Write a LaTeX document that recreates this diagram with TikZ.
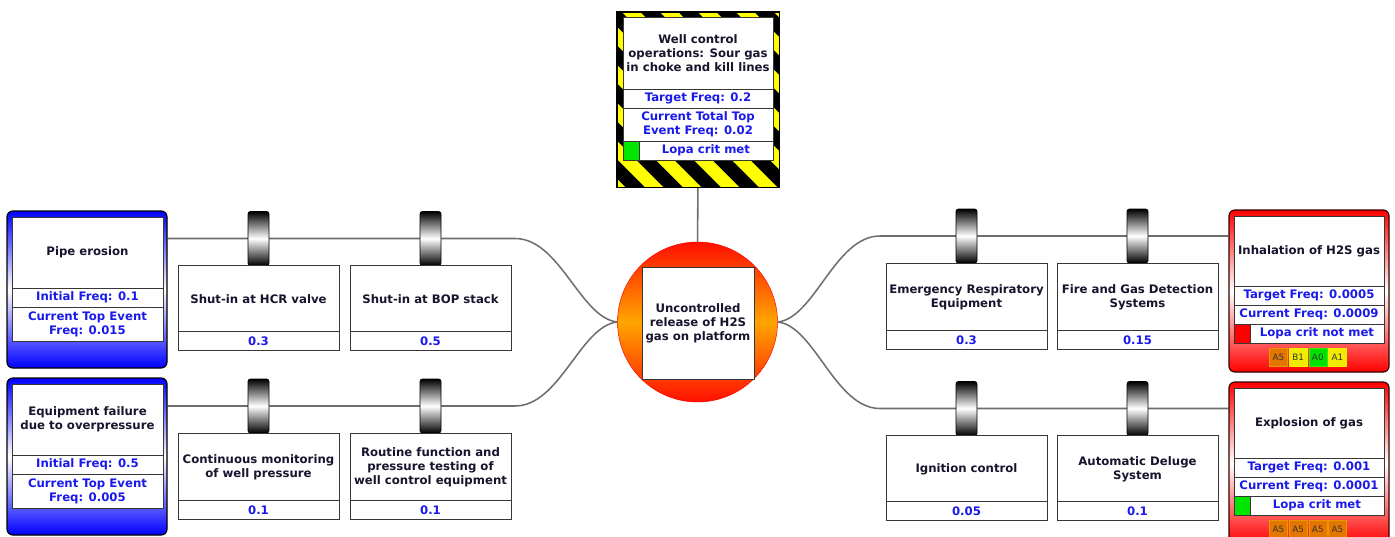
\documentclass[tikz,border=0pt]{standalone}
\usepackage{fontspec}
\setmainfont{DejaVu Sans}
\usepackage{tikz}
\usetikzlibrary{positioning}
\usetikzlibrary{backgrounds}

\definecolor{linkgray}{RGB}{110,110,110}
\definecolor{cellgray}{RGB}{55,55,55}
\definecolor{titletext}{RGB}{25,20,45}
\definecolor{valblue}{RGB}{25,25,235}
\definecolor{hazyellow}{RGB}{255,255,0}
\definecolor{badgeorange}{RGB}{228,118,0}
\definecolor{badgeyellow}{RGB}{240,235,0}
\definecolor{badgegreen}{RGB}{0,225,0}
\definecolor{lopagreen}{RGB}{0,230,0}
\definecolor{hubred}{RGB}{255,15,0}
\definecolor{huborange}{RGB}{255,165,0}

\newcommand{\pxl}{0.03cm}

\tikzset{
	cell/.style 2 args={draw=cellgray, fill=white, line width=0.7pt, inner sep=1pt, outer sep=0pt,
		minimum width=#1*\pxl, minimum height=#2*\pxl, align=center,
		font=\fontsize{10}{12}\selectfont\bfseries, text=titletext},
	valcell/.style 2 args={cell={#1}{#2}, text=valblue},
	knob/.style={draw=black, line width=0.6pt, rounded corners=2pt, top color=black, bottom color=black,
		middle color=white, minimum width=21*\pxl, minimum height=54*\pxl, inner sep=0pt},
	threatbox/.style={draw=black, line width=1pt, rounded corners=5pt, top color=blue, bottom color=blue,
		middle color=white, minimum width=160*\pxl, minimum height=157*\pxl, inner sep=0pt},
	consbox/.style={draw=black!80!red, line width=1pt, rounded corners=5pt, top color=red, bottom color=red,
		middle color=white, minimum width=160*\pxl, minimum height=162*\pxl, inner sep=0pt},
	hazbox/.style={draw=black, fill=hazyellow, minimum width=162*\pxl, minimum height=175*\pxl, inner sep=0pt},
	lopasq/.style={draw=cellgray, fill=#1, line width=0.7pt, minimum width=16*\pxl, minimum height=19*\pxl,
		inner sep=0pt, outer sep=0pt},
	badge/.style={fill=#1, draw=#1!75!yellow, minimum width=18*\pxl, minimum height=18*\pxl, inner sep=0pt,
		font=\fontsize{7.5}{8}\selectfont, text=black!80},
	link/.style={draw=linkgray, line width=1.3pt}
}

\begin{document}
\begin{tikzpicture}[x=\pxl, y=-\pxl]
	\clip (0,0) rectangle (1395,537);

	% Hazard %
	\node[hazbox] (haz) at (698,99.5) {};
	\begin{scope}
		\clip (haz.south west) rectangle (haz.north east);
		\foreach \s in {410,448,...,790} \draw[line width=13.5*\pxl] (\s,0) -- ++(200,200);
	\end{scope}
	\draw[line width=0.8pt] (haz.south west) rectangle (haz.north east);
	\node[cell={150}{72}] (hazt) at (698,53) {Well control\\operations: Sour gas\\in choke and kill lines};
	\node[valcell={150}{19}, below=0pt of hazt] (hazf) {Target Freq: 0.2};
	\node[valcell={150}{33}, below=0pt of hazf] (hazc) {Current Total Top\\Event Freq: 0.02};
	\node[lopasq=lopagreen, anchor=north west] (hazs) at (hazc.south west) {};
	\node[valcell={134}{19}, anchor=north east] (hazl) at (hazc.south east) {Lopa crit met};

	% Top event %
	\node[circle, draw=red, top color=hubred, bottom color=hubred, middle color=huborange,
		minimum size=160*\pxl, inner sep=0pt] (hub) at (697.5,322) {};
	\node[cell={112}{112}] (hubt) at (698,323) {Uncontrolled\\release of H2S\\gas on platform};

	% Threats %
	\node[threatbox] (thr1) at (87,289.5) {};
	\node[cell={151}{71}] (thr1t) at (87.5,252.5) {Pipe erosion};
	\node[valcell={151}{19}, below=0pt of thr1t] (thr1f) {Initial Freq: 0.1};
	\node[valcell={151}{34}, below=0pt of thr1f] (thr1c) {Current Top Event\\Freq: 0.015};

	\node[threatbox] (thr2) at (87,456.5) {};
	\node[cell={151}{71}] (thr2t) at (87.5,419.5) {Equipment failure\\due to overpressure};
	\node[valcell={151}{19}, below=0pt of thr2t] (thr2f) {Initial Freq: 0.5};
	\node[valcell={151}{34}, below=0pt of thr2f] (thr2c) {Current Top Event\\Freq: 0.005};

	% Preventive barriers %
	\node[knob] (bar1k) at (258.5,238.5) {};
	\node[cell={161}{66}, anchor=north] (bar1t) at (bar1k.south) {Shut-in at HCR valve};
	\node[valcell={161}{19}, below=0pt of bar1t] (bar1v) {0.3};
	\node[knob] (bar2k) at (430.5,238.5) {};
	\node[cell={161}{66}, anchor=north] (bar2t) at (bar2k.south) {Shut-in at BOP stack};
	\node[valcell={161}{19}, below=0pt of bar2t] (bar2v) {0.5};

	\node[knob] (bar3k) at (258.5,406) {};
	\node[cell={161}{67}, anchor=north] (bar3t) at (bar3k.south) {Continuous monitoring\\of well pressure};
	\node[valcell={161}{19}, below=0pt of bar3t] (bar3v) {0.1};
	\node[knob] (bar4k) at (430.5,406) {};
	\node[cell={161}{67}, anchor=north] (bar4t) at (bar4k.south) {Routine function and\\pressure testing of\\well control equipment};
	\node[valcell={161}{19}, below=0pt of bar4t] (bar4v) {0.1};

	% Mitigating barriers %
	\node[knob] (bar5k) at (966.5,236) {};
	\node[cell={161}{67}, anchor=north] (bar5t) at (bar5k.south) {Emergency Respiratory\\Equipment};
	\node[valcell={161}{19}, below=0pt of bar5t] (bar5v) {0.3};
	\node[knob] (bar6k) at (1137.5,236) {};
	\node[cell={161}{67}, anchor=north] (bar6t) at (bar6k.south) {Fire and Gas Detection\\Systems};
	\node[valcell={161}{19}, below=0pt of bar6t] (bar6v) {0.15};

	\node[knob] (bar7k) at (966.5,408.5) {};
	\node[cell={161}{66}, anchor=north] (bar7t) at (bar7k.south) {Ignition control};
	\node[valcell={161}{19}, below=0pt of bar7t] (bar7v) {0.05};
	\node[knob] (bar8k) at (1137.5,408.5) {};
	\node[cell={161}{66}, anchor=north] (bar8t) at (bar8k.south) {Automatic Deluge\\System};
	\node[valcell={161}{19}, below=0pt of bar8t] (bar8v) {0.1};

	% Consequences %
	\node[consbox] (con1) at (1309,291) {};
	\node[cell={150}{70}] (con1t) at (1309,251) {Inhalation of H2S gas};
	\node[valcell={150}{19}, below=0pt of con1t] (con1f) {Target Freq: 0.0005};
	\node[valcell={150}{19}, below=0pt of con1f] (con1c) {Current Freq: 0.0009};
	\node[lopasq=red, anchor=north west] (con1s) at (con1c.south west) {};
	\node[valcell={134}{19}, anchor=north east] (con1l) at (con1c.south east) {Lopa crit not met};
	\node[badge=badgeorange] (con1a) at (1278.5,357.5) {A5};
	\node[badge=badgeyellow, right=1pt of con1a] (con1b) {B1};
	\node[badge=badgegreen, right=1pt of con1b] (con1d) {A0};
	\node[badge=badgeyellow, right=1pt of con1d] (con1e) {A1};

	\node[consbox] (con2) at (1309,463) {};
	\node[cell={150}{70}] (con2t) at (1309,423) {Explosion of gas};
	\node[valcell={150}{19}, below=0pt of con2t] (con2f) {Target Freq: 0.001};
	\node[valcell={150}{19}, below=0pt of con2f] (con2c) {Current Freq: 0.0001};
	\node[lopasq=lopagreen, anchor=north west] (con2s) at (con2c.south west) {};
	\node[valcell={134}{19}, anchor=north east] (con2l) at (con2c.south east) {Lopa crit met};
	\node[badge=badgeorange] (con2a) at (1278.5,529) {A5};
	\node[badge=badgeorange, right=1pt of con2a] (con2b) {A5};
	\node[badge=badgeorange, right=1pt of con2b] (con2d) {A5};
	\node[badge=badgeorange, right=1pt of con2d] (con2e) {A5};

	% Links %
	\coordinate (bend1) at (515,238.5);
	\coordinate (bend2) at (515,406);
	\coordinate (bend3) at (880,236);
	\coordinate (bend4) at (880,408.5);
	\begin{scope}[on background layer]
		\fill[white] (0,0) rectangle (1395,537);
		\draw[link] (haz) -- (hub);
		\draw[link] (thr1.east |- bar1k) -- (bend1) .. controls +(45,0) and +(-37,-4) .. (hub.west);
		\draw[link] (thr2.east |- bar3k) -- (bend2) .. controls +(45,0) and +(-37,4) .. (hub.west);
		\draw[link] (hub.east) .. controls +(37,-4) and +(-45,0) .. (bend3) -- (con1.west |- bar5k);
		\draw[link] (hub.east) .. controls +(37,4) and +(-45,0) .. (bend4) -- (con2.west |- bar7k);
	\end{scope}
\end{tikzpicture}
\end{document}
